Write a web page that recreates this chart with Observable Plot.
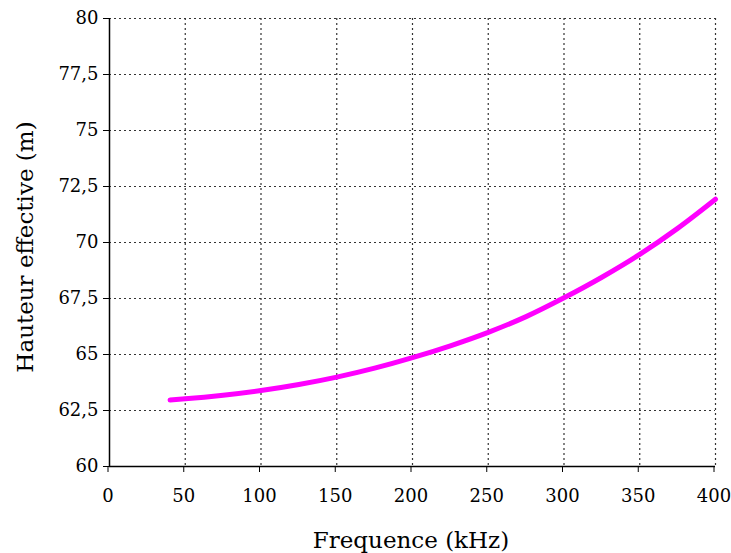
<!DOCTYPE html>
<html>
<head>
<meta charset="utf-8">
<script src="https://cdn.jsdelivr.net/npm/d3@7"></script>
<script src="https://cdn.jsdelivr.net/npm/@observablehq/plot@0.6"></script>
<style>
  html, body { margin: 0; padding: 0; background: #fff; }
  svg { display: block; }
</style>
</head>
<body>
<div id="chart"></div>
<script>
const freq = [40, 50, 75, 100, 125, 150, 175, 200, 225, 250, 275, 300, 325, 350, 375, 400];
const hauteur = [62.97, 63.02, 63.18, 63.39, 63.66, 63.99, 64.39, 64.86, 65.39, 65.99, 66.69, 67.53, 68.45, 69.47, 70.63, 71.93];
const xTicks = [0, 50, 100, 150, 200, 250, 300, 350, 400];
const yTicks = [60, 62.5, 65, 67.5, 70, 72.5, 75, 77.5, 80];

const data = freq.map((f, i) => ({f, h: hauteur[i]}));
const fmt = d => String(d).replace(".", ",");
const font = "'DejaVu Serif', 'Liberation Serif', serif";

const chart = Plot.plot({
  width: 731,
  height: 553,
  marginLeft: 109,
  marginRight: 16,
  marginTop: 18,
  marginBottom: 87,
  style: {fontFamily: font, fontSize: "18px", color: "#000", background: "#fff"},
  x: {domain: [0, 400]},
  y: {domain: [60, 80]},
  marks: [
    Plot.gridX(xTicks.filter(d => d > 0), {stroke: "#333", strokeOpacity: 1, strokeWidth: 1.2, strokeDasharray: "2,3"}),
    Plot.gridY(yTicks.filter(d => d > 60), {stroke: "#333", strokeOpacity: 1, strokeWidth: 1.2, strokeDasharray: "2,3"}),
    Plot.ruleX([0], {stroke: "#000", strokeWidth: 1.5}),
    Plot.ruleY([60], {stroke: "#000", strokeWidth: 1.5}),
    Plot.axisX(xTicks, {tickSize: 6, tickPadding: 17, tickFormat: fmt, fontSize: 18, fontFamily: font, dx: -1.5, label: null}),
    Plot.axisY(yTicks, {tickSize: 6, tickPadding: 5, tickFormat: fmt, fontSize: 18, fontFamily: font, label: null}),
    Plot.line(data, {x: "f", y: "h", stroke: "#ff00ff", strokeWidth: 5, curve: "monotone-x"})
  ]
});

const svg = d3.select(chart);
svg.append("text")
  .attr("x", 411).attr("y", 548)
  .attr("text-anchor", "middle")
  .attr("font-family", font).attr("font-size", 23).attr("fill", "#000")
  .text("Frequence (kHz)");
svg.append("text")
  .attr("transform", "translate(33,247) rotate(-90)")
  .attr("text-anchor", "middle")
  .attr("font-family", font).attr("font-size", 23).attr("fill", "#000")
  .text("Hauteur effective (m)");

document.getElementById("chart").appendChild(chart);
</script>
</body>
</html>
